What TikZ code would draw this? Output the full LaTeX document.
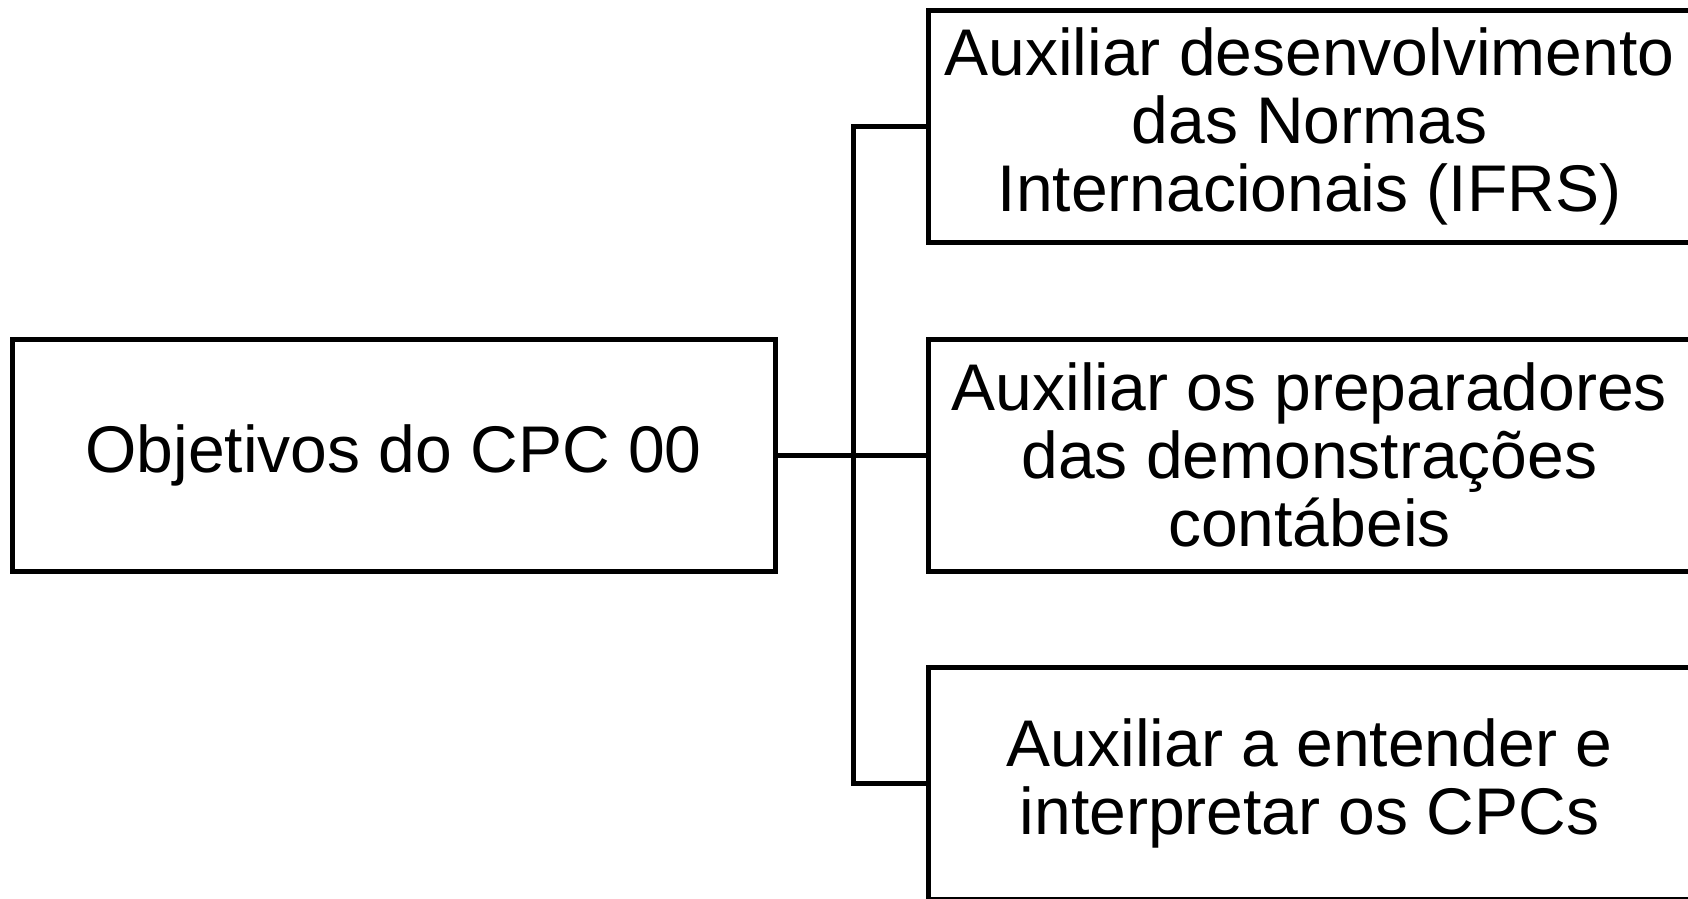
\documentclass[tikz,border=0pt]{standalone}
\usepackage{fontspec}
\setmainfont{Liberation Sans}
\tikzset{caixa/.style={draw,line width=2.5pt,minimum width=381.5pt,minimum height=116pt,align=center,inner sep=0pt,font=\fontsize{33}{34}\selectfont}}
\begin{document}
\begin{tikzpicture}[x=0.5pt,y=-0.5pt]
 \clip (0,0) rectangle (1688,899);
 \node[caixa] (obj) at (393.5,455) {Objetivos do CPC 00};
 \node[caixa] (ifrs) at (1309.5,126.5) {Auxiliar desenvolvimento\\das Normas\\Internacionais (IFRS)};
 \node[caixa] (prep) at (1309.5,455) {Auxiliar os preparadores\\das demonstrações\\contábeis};
 \node[caixa] (cpcs) at (1309.5,783) {Auxiliar a entender e\\interpretar os CPCs};
 \coordinate (bus) at (853,455);
 \draw[line width=2.5pt] (obj.east) -- (prep.west);
 \draw[line width=2.5pt] (ifrs.west) -| (bus) |- (cpcs.west);
\end{tikzpicture}
\end{document}
